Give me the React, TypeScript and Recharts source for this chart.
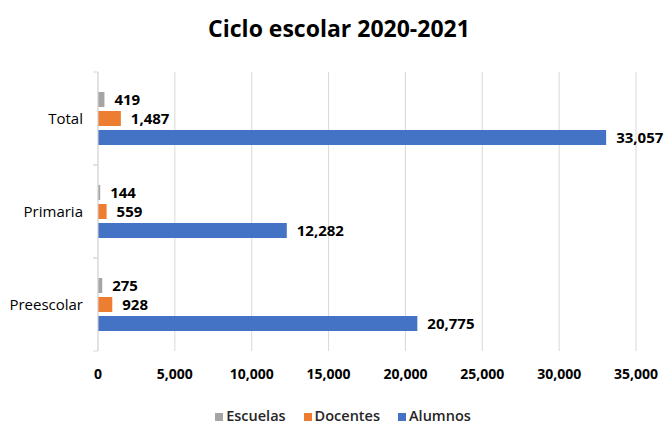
import React from "react";
import { BarChart, Bar, XAxis, YAxis, CartesianGrid, Legend, LabelList } from "recharts";

const categories = ["Total", "Primaria", "Preescolar"];
const escuelas = [419, 144, 275];
const docentes = [1487, 559, 928];
const alumnos = [33057, 12282, 20775];
const xTicks = [0, 5000, 10000, 15000, 20000, 25000, 30000, 35000];

const seriesNames = ["Escuelas", "Docentes", "Alumnos"];
const seriesColors = ["#A5A5A5", "#ED7D31", "#4472C4"];

const data = categories.map((name, i) => ({
  name,
  Escuelas: escuelas[i],
  Docentes: docentes[i],
  Alumnos: alumnos[i],
}));

const FONT = "'Open Sans', sans-serif";
const fmt = (v: number) => v.toLocaleString("en-US");

const CategoryTick = (props: any) => {
  const { x, y, payload } = props;
  const half = payload && payload.offset ? payload.offset : 46;
  return (
    <g>
      <line x1={x + 3} x2={x + 8} y1={y - half} y2={y - half} stroke="#D9D9D9" />
      <line x1={x + 3} x2={x + 8} y1={y + half} y2={y + half} stroke="#D9D9D9" />
      <text x={x - 7} y={y} dy="0.35em" textAnchor="end" fontFamily={FONT} fontSize={15} fill="#000">
        {payload.value}
      </text>
    </g>
  );
};

const LegendContent = () => (
  <div
    style={{
      display: "flex",
      justifyContent: "center",
      alignItems: "flex-end",
      fontFamily: FONT,
      fontSize: 14.5,
      fontWeight: 600,
      color: "#262626",
      height: 24,
      paddingLeft: 15,
      boxSizing: "border-box",
    }}
  >
    {seriesNames.map((n, i) => (
      <div key={n} style={{ display: "flex", alignItems: "center", marginRight: i < 2 ? 18 : 0 }}>
        <span style={{ display: "inline-block", width: 8, height: 8, background: seriesColors[i], marginRight: 3, marginTop: 2 }} />
        <span>{n}</span>
      </div>
    ))}
  </div>
);

export default function App() {
  return (
    <div style={{ position: "relative", width: 671, height: 425, background: "#fff" }}>
      <style>{`body{margin:0}`}</style>
      <div
        style={{
          position: "absolute",
          top: 12,
          left: 0,
          width: 678,
          textAlign: "center",
          fontFamily: FONT,
          fontWeight: 700,
          fontSize: 23,
          color: "#000",
          zIndex: 2,
        }}
      >
        Ciclo escolar 2020-2021
      </div>
      <BarChart
        width={671}
        height={425}
        data={data}
        layout="vertical"
        margin={{ top: 72, right: 35, bottom: 0, left: 0 }}
        barSize={15}
        barGap={4}
      >
        <CartesianGrid horizontal={false} stroke="#D9D9D9" />
        <XAxis
          type="number"
          domain={[0, 35000]}
          ticks={xTicks}
          tickFormatter={fmt}
          axisLine={false}
          tickLine={false}
          tickMargin={12}
          height={50}
          tick={{ fontFamily: FONT, fontSize: 14, fontWeight: 700, fill: "#000" }}
          interval={0}
        />
        <YAxis
          type="category"
          dataKey="name"
          width={98}
          axisLine={{ stroke: "#D9D9D9" }}
          tickLine={false}
          tick={<CategoryTick />}
        />
        <Legend
          verticalAlign="bottom"
          align="center"
          height={24}
          wrapperStyle={{ bottom: 0, left: 0, width: 671 }}
          content={<LegendContent />}
        />
        <Bar dataKey="Escuelas" fill="#A5A5A5" isAnimationActive={false}>
          <LabelList dataKey="Escuelas" position="right" offset={10} formatter={fmt}
            style={{ fontFamily: FONT, fontSize: 15, fontWeight: 700, fill: "#000" }} />
        </Bar>
        <Bar dataKey="Docentes" fill="#ED7D31" isAnimationActive={false}>
          <LabelList dataKey="Docentes" position="right" offset={10} formatter={fmt}
            style={{ fontFamily: FONT, fontSize: 15, fontWeight: 700, fill: "#000" }} />
        </Bar>
        <Bar dataKey="Alumnos" fill="#4472C4" isAnimationActive={false}>
          <LabelList dataKey="Alumnos" position="right" offset={10} formatter={fmt}
            style={{ fontFamily: FONT, fontSize: 15, fontWeight: 700, fill: "#000" }} />
        </Bar>
      </BarChart>
    </div>
  );
}
